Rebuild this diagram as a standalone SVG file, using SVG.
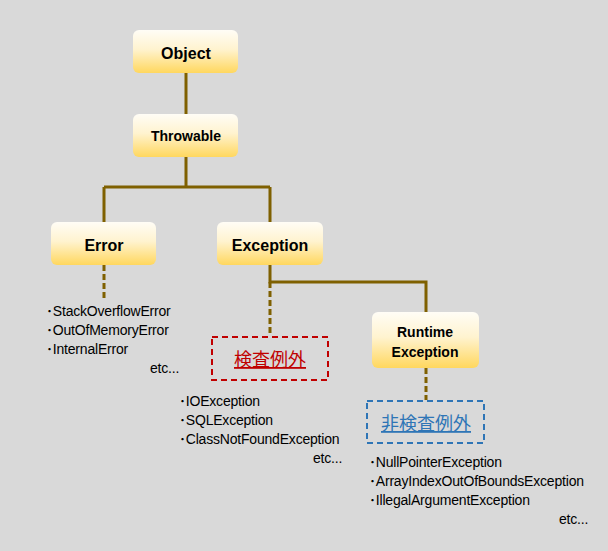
<svg xmlns="http://www.w3.org/2000/svg" width="608" height="551" viewBox="0 0 608 551">
<defs>
<linearGradient id="g" x1="0" y1="0" x2="0" y2="1">
<stop offset="0" stop-color="#fffdf6"/>
<stop offset="0.45" stop-color="#fff3cf"/>
<stop offset="1" stop-color="#ffd75e"/>
</linearGradient>
</defs>
<style>
.box{fill:url(#g);}
.lbl{font-family:"Liberation Sans","Noto Sans",sans-serif;font-weight:bold;fill:#000;text-anchor:middle;}
.big{font-size:16px;}
.sm{font-size:14px;}
.ln{stroke:#7f6000;stroke-width:3;fill:none;}
.dash{stroke-dasharray:6,3;}
.lst{font-family:"Liberation Sans","Noto Sans CJK JP",sans-serif;font-size:14px;fill:#000;letter-spacing:-0.2px;}
.jp{font-family:"Noto Sans CJK JP",sans-serif;font-size:18px;text-anchor:middle;text-decoration:underline;}
</style>
<rect width="608" height="551" fill="#d9d9d9"/>
<g id="connectors">
<path class="ln" d="M186,73 V114"/>
<path class="ln" d="M186,157 V187 M104,187 H270 M104,187 V222 M270,187 V222"/>
<path class="ln dash" d="M104,265 V298"/>
<path class="ln" d="M270,265 V282 H426 V312"/>
<path class="ln dash" d="M270,282 V336"/>
<path class="ln dash" d="M426,368 V400"/>
</g>
<g id="object"><rect class="box" x="133" y="30" width="105" height="43" rx="6"/><text class="lbl big" x="186" y="59">Object</text></g>
<g id="throwable"><rect class="box" x="133" y="114" width="105" height="43" rx="6"/><text class="lbl sm" x="186" y="141">Throwable</text></g>
<g id="error"><rect class="box" x="51" y="222" width="105" height="43" rx="6"/><text class="lbl big" x="104" y="251">Error</text></g>
<g id="exception"><rect class="box" x="217" y="222" width="106" height="43" rx="6"/><text class="lbl big" x="270" y="251">Exception</text></g>
<g id="runtime"><rect class="box" x="372" y="312" width="107" height="56" rx="6"/><text class="lbl sm" x="425" y="337">Runtime</text><text class="lbl sm" x="425" y="357">Exception</text></g>
<g id="checked"><rect x="212" y="337" width="116" height="43" fill="none" stroke="#c00000" stroke-width="2" stroke-dasharray="6,4"/><text class="jp" x="270" y="366" fill="#c00000">検査例外</text></g>
<g id="unchecked"><rect x="367" y="401" width="117" height="42" fill="none" stroke="#2e75b6" stroke-width="2" stroke-dasharray="6,4"/><text class="jp" x="426" y="430" fill="#2e75b6">非検査例外</text></g>
<g id="error-list" class="lst">
<text x="46" y="316">･StackOverflowError</text>
<text x="46" y="335">･OutOfMemoryError</text>
<text x="46" y="354">･InternalError</text>
<text x="150" y="373">etc...</text>
</g>
<g id="exception-list" class="lst">
<text x="179" y="406">･IOException</text>
<text x="179" y="425">･SQLException</text>
<text x="179" y="444">･ClassNotFoundException</text>
<text x="313" y="463">etc...</text>
</g>
<g id="runtime-list" class="lst">
<text x="369" y="467">･NullPointerException</text>
<text x="369" y="486">･ArrayIndexOutOfBoundsException</text>
<text x="369" y="505">･IllegalArgumentException</text>
<text x="559" y="524">etc...</text>
</g>
</svg>
